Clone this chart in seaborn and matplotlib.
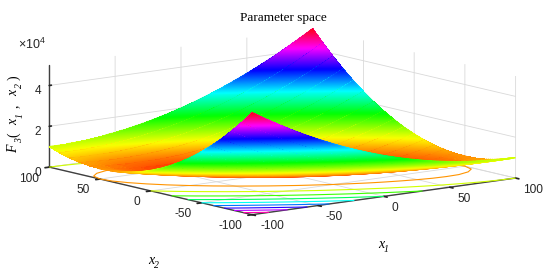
import numpy as np
import matplotlib
matplotlib.use("Agg")
import matplotlib.pyplot as plt
import seaborn as sns

# -------- data --------
x1_values = [-100, -90, -80, -70, -60, -50, -40, -30, -20, -10, 0,
             10, 20, 30, 40, 50, 60, 70, 80, 90, 100]
x2_values = list(x1_values)

# F3 in hundreds, one row per x2 (from -100 to 100), one column per x1
f3_hundreds = [
    [500, 461, 424, 389, 356, 325, 296, 269, 244, 221, 200, 181, 164, 149, 136, 125, 116, 109, 104, 101, 100],
    [442, 405, 370, 337, 306, 277, 250, 225, 202, 181, 162, 145, 130, 117, 106, 97, 90, 85, 82, 81, 82],
    [388, 353, 320, 289, 260, 233, 208, 185, 164, 145, 128, 113, 100, 89, 80, 73, 68, 65, 64, 65, 68],
    [338, 305, 274, 245, 218, 193, 170, 149, 130, 113, 98, 85, 74, 65, 58, 53, 50, 49, 50, 53, 58],
    [292, 261, 232, 205, 180, 157, 136, 117, 100, 85, 72, 61, 52, 45, 40, 37, 36, 37, 40, 45, 52],
    [250, 221, 194, 169, 146, 125, 106, 89, 74, 61, 50, 41, 34, 29, 26, 25, 26, 29, 34, 41, 50],
    [212, 185, 160, 137, 116, 97, 80, 65, 52, 41, 32, 25, 20, 17, 16, 17, 20, 25, 32, 41, 52],
    [178, 153, 130, 109, 90, 73, 58, 45, 34, 25, 18, 13, 10, 9, 10, 13, 18, 25, 34, 45, 58],
    [148, 125, 104, 85, 68, 53, 40, 29, 20, 13, 8, 5, 4, 5, 8, 13, 20, 29, 40, 53, 68],
    [122, 101, 82, 65, 50, 37, 26, 17, 10, 5, 2, 1, 2, 5, 10, 17, 26, 37, 50, 65, 82],
    [100, 81, 64, 49, 36, 25, 16, 9, 4, 1, 0, 1, 4, 9, 16, 25, 36, 49, 64, 81, 100],
    [82, 65, 50, 37, 26, 17, 10, 5, 2, 1, 2, 5, 10, 17, 26, 37, 50, 65, 82, 101, 122],
    [68, 53, 40, 29, 20, 13, 8, 5, 4, 5, 8, 13, 20, 29, 40, 53, 68, 85, 104, 125, 148],
    [58, 45, 34, 25, 18, 13, 10, 9, 10, 13, 18, 25, 34, 45, 58, 73, 90, 109, 130, 153, 178],
    [52, 41, 32, 25, 20, 17, 16, 17, 20, 25, 32, 41, 52, 65, 80, 97, 116, 137, 160, 185, 212],
    [50, 41, 34, 29, 26, 25, 26, 29, 34, 41, 50, 61, 74, 89, 106, 125, 146, 169, 194, 221, 250],
    [52, 45, 40, 37, 36, 37, 40, 45, 52, 61, 72, 85, 100, 117, 136, 157, 180, 205, 232, 261, 292],
    [58, 53, 50, 49, 50, 53, 58, 65, 74, 85, 98, 113, 130, 149, 170, 193, 218, 245, 274, 305, 338],
    [68, 65, 64, 65, 68, 73, 80, 89, 100, 113, 128, 145, 164, 185, 208, 233, 260, 289, 320, 353, 388],
    [82, 81, 82, 85, 90, 97, 106, 117, 130, 145, 162, 181, 202, 225, 250, 277, 306, 337, 370, 405, 442],
    [100, 101, 104, 109, 116, 125, 136, 149, 164, 181, 200, 221, 244, 269, 296, 325, 356, 389, 424, 461, 500],
]

axis_ticks = [-100, -50, 0, 50, 100]
axis_tick_labels = ["-100", "-50", "0", "50", "100"]
z_ticks = [0, 20000, 40000]
z_tick_labels = ["0", "2", "4"]
floor_levels = [5000, 10000, 15000, 20000, 25000, 30000, 35000, 40000, 45000]

# -------- style --------
sns.set_theme(style="white", font="Liberation Sans")
plt.rcParams["mathtext.fontset"] = "custom"
plt.rcParams["mathtext.rm"] = "Liberation Sans"
cmap = sns.color_palette("hsv", as_cmap=True)

X, Y = np.meshgrid(x1_values, x2_values)
Z = np.array(f3_hundreds, dtype=float) * 100

W, H = 550.0, 276.0
fig = plt.figure(figsize=(5.5, 2.76), dpi=100)
# square axes wider than the figure height, so nothing gets clipped
ax = fig.add_axes([0.0, -0.5 + 9 / H, 1.0, 2.0], projection="3d", proj_type="ortho",
                  computed_zorder=False)
ax.view_init(elev=10.4, azim=-127.6)
ax.set_box_aspect((1, 1, 0.312), zoom=0.85)

# contours on the floor
ax.contour(X, Y, Z, levels=floor_levels, offset=0, cmap=cmap, vmin=0, vmax=50000,
           linewidths=0.8, zorder=1)

# surface is painted strip by strip, from the far side to the near side,
# dense contour lines on each strip give the fine colour bands
band_levels = np.arange(0, 50001, 200)
for i in range(Z.shape[0] - 1, 0, -1):
    sx, sy, sz = X[i - 1:i + 1], Y[i - 1:i + 1], Z[i - 1:i + 1]
    z_order = 2 * (Z.shape[0] - i) + 2
    ax.plot_surface(sx, sy, sz, cmap=cmap, vmin=0, vmax=50000, rstride=1, cstride=1,
                    linewidth=0, antialiased=False, shade=False, zorder=z_order)
    ax.contour(sx, sy, sz, levels=band_levels, cmap=cmap, vmin=0, vmax=50000,
               linewidths=1.1, zorder=z_order + 1)

ax.set_xlim(-100, 100, view_margin=0)
ax.set_ylim(-100, 100, view_margin=0)
ax.set_zlim(0, 50000, view_margin=0)

ax.set_xticks(axis_ticks)
ax.set_xticklabels(axis_tick_labels, ha="left")
ax.set_yticks(axis_ticks)
ax.set_yticklabels(axis_tick_labels, ha="right")
ax.set_zticks(z_ticks)
ax.set_zticklabels(z_tick_labels)
ax.tick_params(labelsize=8.6, colors="0.15", pad=0)
ax.tick_params(axis="z", pad=-3)

for axis in (ax.xaxis, ax.yaxis, ax.zaxis):
    axis.set_pane_color((1, 1, 1, 0))
    axis.pane.set_edgecolor((1, 1, 1, 0))
    axis.line.set_color("0.25")
    axis.line.set_linewidth(1.0)
    axis._axinfo["grid"].update(color="0.85", linewidth=0.6)
    axis._axinfo["tick"].update(inward_factor=0.2, outward_factor=0.0)
ax.zaxis._axinfo["tick"].update(inward_factor=0.0, outward_factor=0.1)
ax.grid(True)


# -------- text --------
def label(px, py, s, size=10, rotation=0, style="italic", family="Liberation Serif", color="black"):
    fig.text(px / W, 1 - py / H, s, fontsize=size, rotation=rotation, style=style,
             family=family, ha="center", va="center", color=color)


label(283, 18, "Parameter space", size=9.5, style="normal")
fig.text(32 / W, 1 - 44 / H, r"$\times\mathrm{10}^{\mathrm{4}}$", fontsize=9,
         ha="center", va="center", color="0.15")

label(14, 149, "F", rotation=90)
label(20, 141, "3", size=7, rotation=90)
label(14, 135, "(", rotation=90, style="normal")
label(14, 122, "x", rotation=90)
label(20, 116, "1", size=7, rotation=90)
label(14, 106, ",", rotation=90, style="normal")
label(14, 93, "x", rotation=90)
label(20, 86, "2", size=7, rotation=90)
label(14, 78, ")", rotation=90, style="normal")

label(381, 245, "x")
label(386, 250, "1", size=7)
label(151, 261, "x")
label(156, 266, "2", size=7)

fig.savefig("out.png", dpi=100)
